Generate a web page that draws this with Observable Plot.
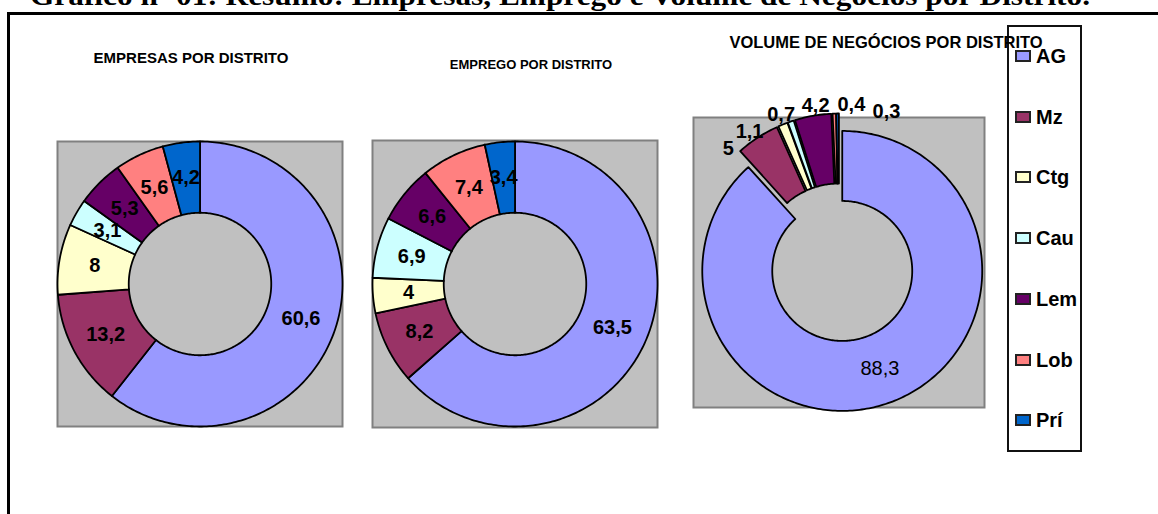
<!DOCTYPE html>
<html>
<head>
<meta charset="utf-8">
<script src="https://cdn.jsdelivr.net/npm/d3@7"></script>
<script src="https://cdn.jsdelivr.net/npm/@observablehq/plot@0.6"></script>
<style>
  html, body { margin: 0; padding: 0; background: #fff; }
  #page { position: relative; width: 1158px; height: 514px; overflow: hidden; font-family: "Liberation Sans", Arial, sans-serif; }
  .ctitle { position: absolute; font-weight: bold; white-space: nowrap; transform: translate(-50%, -50%); color: #000; }
  #frame { position: absolute; left: 7px; top: 12px; width: 1200px; height: 600px; border-left: 3px solid #000; border-top: 3px solid #000; }
  #legend { position: absolute; left: 1007px; top: 25px; width: 71px; height: 423px; border: 2px solid #111; background: #fff; }
  .litem { position: absolute; left: 0; display: flex; align-items: center; transform: translateY(-50%); }
  .lsw { width: 12px; height: 8px; border: 2px solid #222; margin-left: 6px; margin-right: 5px; }
  .ltx { font-weight: bold; font-size: 20px; line-height: 20px; }
</style>
</head>
<body>
<div id="page"></div>
<script>
// ---------- data ----------
const mainTitle = "Gráfico nº 01: Resumo: Empresas, Emprego e Volume de Negócios por Distrito.";
const categories = ["AG", "Mz", "Ctg", "Cau", "Lem", "Lob", "Prí"];
const colors = ["#9999FF", "#993366", "#FFFFCC", "#CCFFFF", "#660066", "#FF8080", "#0066CC"];
const empresas = [60.6, 13.2, 8, 3.1, 5.3, 5.6, 4.2];
const emprego = [63.5, 8.2, 4, 6.9, 6.6, 7.4, 3.4];
const volume = [88.3, 5, 1.1, 0.7, 4.2, 0.4, 0.3];
const chartTitles = ["EMPRESAS POR DISTRITO", "EMPREGO POR DISTRITO", "VOLUME DE NEGÓCIOS POR DISTRITO"];

// ---------- helpers ----------
const fmt = v => String(v).replace(".", ",");
const page = document.getElementById("page");

function textWidthPx(s, size) {
  let w = 0;
  for (const ch of s) w += (ch === "," ? 0.278 : 0.556) * size;
  return w;
}

function buildChart(values, cfg) {
  const total = d3.sum(values);
  const pts = [];
  const labels = [];
  let acc = 0;
  values.forEach((v, i) => {
    const cat = categories[i];
    const a0 = acc / total * 2 * Math.PI;
    acc += v;
    const a1 = acc / total * 2 * Math.PI;
    const mid = (a0 + a1) / 2;
    const ox = cfg.explode * Math.sin(mid), oy = cfg.explode * Math.cos(mid);
    const n = Math.max(2, Math.ceil((a1 - a0) / (Math.PI / 180)));
    for (let k = 0; k <= n; k++) {
      const a = a0 + (a1 - a0) * k / n;
      pts.push({cat, x: ox + cfg.outer * Math.sin(a), y: oy + cfg.outer * Math.cos(a)});
    }
    for (let k = n; k >= 0; k--) {
      const a = a0 + (a1 - a0) * k / n;
      pts.push({cat, x: ox + cfg.inner * Math.sin(a), y: oy + cfg.inner * Math.cos(a)});
    }
    const share = v / total * 100;
    const outside = share < cfg.outsideBelow;
    const rm = (cfg.inner + cfg.outer) / 2;
    labels.push({
      cat, text: fmt(v), outside, a: mid,
      x: ox + rm * Math.sin(mid), y: oy + rm * Math.cos(mid)
    });
  });

  // outside labels: spread along an arc so they do not overlap
  const out = labels.filter(d => d.outside);
  if (out.length) {
    const Rpx = cfg.labelR * cfg.unit;
    const gap = (p, q) => (textWidthPx(p.text, 20) / 2 + textWidthPx(q.text, 20) / 2 + cfg.pad) / Rpx;
    let clusters = out.map(d => ({items: [d], offs: [0], start: d.a}));
    let changed = true;
    while (changed) {
      changed = false;
      for (let k = 0; k < clusters.length - 1; k++) {
        const A = clusters[k], B = clusters[k + 1];
        const lastA = A.start + A.offs[A.offs.length - 1];
        if (B.start < lastA + gap(A.items[A.items.length - 1], B.items[0])) {
          const items = A.items.concat(B.items);
          const offs = [0];
          for (let i = 1; i < items.length; i++) offs.push(offs[i - 1] + gap(items[i - 1], items[i]));
          const start = d3.mean(items, (it, i) => it.a - offs[i]);
          clusters.splice(k, 2, {items, offs, start});
          changed = true;
          break;
        }
      }
    }
    clusters.forEach(c => c.items.forEach((it, i) => {
      const la = c.start + c.offs[i];
      it.x = cfg.labelR * Math.sin(la);
      it.y = cfg.labelR * Math.cos(la);
    }));
  }

  const W = cfg.w, H = cfg.h, M = 45;
  const ky = H / W;
  const textOpts = {
    x: "x", y: "y", text: "text",
    fontSize: 20,
    fill: "#000",
    fontFamily: "Liberation Sans, Arial, sans-serif",
    textAnchor: "middle", lineAnchor: "middle"
  };
  const boldLabels = labels.filter(d => !(cfg.plainInside && !d.outside));
  const plainLabels = labels.filter(d => cfg.plainInside && !d.outside);
  const chart = Plot.plot({
    width: W + 2 * M,
    height: H + 2 * M,
    margin: M,
    x: {domain: [-1, 1], axis: null},
    y: {domain: [-ky, ky], axis: null},
    color: {domain: categories, range: colors},
    style: {background: "transparent", overflow: "visible"},
    marks: [
      Plot.frame({fill: "#C0C0C0", stroke: "#808080", strokeWidth: 2}),
      Plot.line(pts, {x: "x", y: "y", z: "cat", fill: "cat", stroke: "#000", strokeWidth: 1.8, curve: "linear-closed"}),
      Plot.text(boldLabels, {...textOpts, fontWeight: "bold"}),
      Plot.text(plainLabels, {...textOpts, fontWeight: "normal"})
    ]
  });
  chart.style.position = "absolute";
  chart.style.left = (cfg.left - M) + "px";
  chart.style.top = (cfg.top - M) + "px";
  chart.style.maxWidth = "none";
  page.appendChild(chart);
}

// ---------- page layout ----------
// main title (cut at the top edge, as in the source image)
const ns = "http://www.w3.org/2000/svg";
const tsvg = document.createElementNS(ns, "svg");
tsvg.setAttribute("width", 1158); tsvg.setAttribute("height", 14);
tsvg.style.position = "absolute"; tsvg.style.left = "0px"; tsvg.style.top = "0px";
const tt = document.createElementNS(ns, "text");
tt.setAttribute("x", 30); tt.setAttribute("y", 5);
tt.setAttribute("font-family", "Liberation Serif, Times New Roman, serif");
tt.setAttribute("font-weight", "bold");
tt.setAttribute("font-size", 27);
tt.setAttribute("textLength", 1060);
tt.setAttribute("lengthAdjust", "spacingAndGlyphs");
tt.textContent = mainTitle;
tsvg.appendChild(tt);
page.appendChild(tsvg);

const frame = document.createElement("div");
frame.id = "frame";
page.appendChild(frame);

buildChart(empresas, {left: 57, top: 141, w: 285, h: 285, unit: 142.5, outer: 1.0, inner: 0.5, explode: 0, outsideBelow: 0});
buildChart(emprego, {left: 372, top: 140, w: 285, h: 287, unit: 142.5, outer: 1.0, inner: 0.5, explode: 0, outsideBelow: 0});
buildChart(volume, {left: 693, top: 117, w: 291, h: 290, unit: 145.5, outer: 0.962, inner: 0.481, explode: 0.062, outsideBelow: 10, labelR: 1.09, pad: 8, plainInside: true});

// legend
const leg = document.createElement("div");
leg.id = "legend";
categories.forEach((c, i) => {
  const it = document.createElement("div");
  it.className = "litem";
  it.style.top = (29 + i * 60.7) + "px";
  const sw = document.createElement("div");
  sw.className = "lsw";
  sw.style.background = colors[i];
  const tx = document.createElement("div");
  tx.className = "ltx";
  tx.textContent = c;
  it.appendChild(sw); it.appendChild(tx);
  leg.appendChild(it);
});
page.appendChild(leg);

// chart titles
[[191, 57, 15], [531, 64, 13], [886, 42, 16.5]].forEach(([x, y, fs], i) => {
  const d = document.createElement("div");
  d.className = "ctitle";
  d.style.left = x + "px";
  d.style.top = y + "px";
  d.style.fontSize = fs + "px";
  d.textContent = chartTitles[i];
  page.appendChild(d);
});
</script>
</body>
</html>
